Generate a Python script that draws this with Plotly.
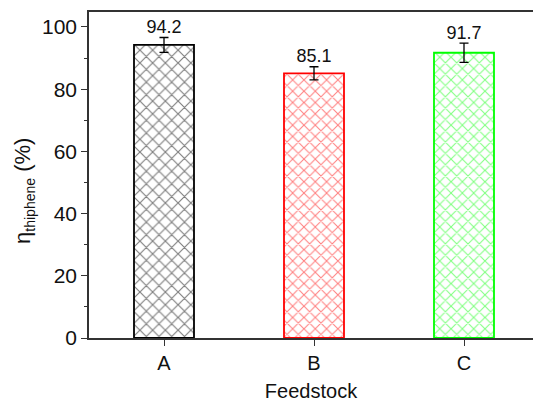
import plotly.graph_objects as go

categories = ["A", "B", "C"]
values = [94.2, 85.1, 91.7]
errors = [2.4, 2.1, 3.1]
labels = ["94.2", "85.1", "91.7"]
colors = ["#000000", "#ff0000", "#00ff00"]
hatch_sizes = [9, 8, 8]

FONT = "Liberation Sans, Arial, sans-serif"

fig = go.Figure()
fig.add_trace(go.Bar(
    x=categories, y=values, width=0.4,
    marker=dict(
        color="white",
        line=dict(color=colors, width=1.8),
        pattern=dict(shape="x", fgcolor=colors, bgcolor="white",
                     size=hatch_sizes, solidity=0.24, fillmode="overlay"),
    ),
    error_y=dict(type="data", array=errors, color="black", thickness=1.3, width=4.5),
    showlegend=False,
))
fig.add_trace(go.Scatter(
    x=categories, y=[v + e for v, e in zip(values, errors)],
    mode="text", text=labels, textposition="top center",
    textfont=dict(size=18, color="#111", family=FONT),
    showlegend=False, cliponaxis=False,
))

fig.update_layout(
    width=533, height=402,
    margin=dict(l=89, r=0, t=12, b=64),
    paper_bgcolor="white", plot_bgcolor="white",
    font=dict(family=FONT, color="#111", size=20),
    bargap=0.6,
    annotations=[dict(
        text="η<sub><span style='font-size:14px'>thiphene</span></sub> (%)",
        xref="paper", yref="paper", x=-0.145, y=0.45,
        xanchor="center", yanchor="middle", textangle=-90, showarrow=False,
        font=dict(size=22, family=FONT, color="#111"),
    )],
)
fig.update_xaxes(
    range=[-0.5, 2.46], type="category",
    showline=True, linecolor="#333", linewidth=1.5, mirror=True,
    ticks="outside", ticklen=6, tickwidth=1.2, tickcolor="#333",
    showgrid=False, zeroline=False,
    tickfont=dict(size=20),
    title=dict(text="Feedstock", font=dict(size=20), standoff=12),
)
fig.update_yaxes(
    range=[0, 104.8], tickvals=[0, 20, 40, 60, 80, 100],
    showline=True, linecolor="#333", linewidth=1.5, mirror=False,
    ticks="outside", ticklen=6, tickwidth=1.2, tickcolor="#333",
    minor=dict(tickvals=[10, 30, 50, 70, 90], ticks="outside", ticklen=3, tickcolor="#333", tickwidth=1),
    showgrid=False, zeroline=False,
    tickfont=dict(size=21),
)

fig.write_html("out.html", config={"displayModeBar": False},
               post_script="document.body.style.margin='0';document.body.style.overflow='hidden';")
